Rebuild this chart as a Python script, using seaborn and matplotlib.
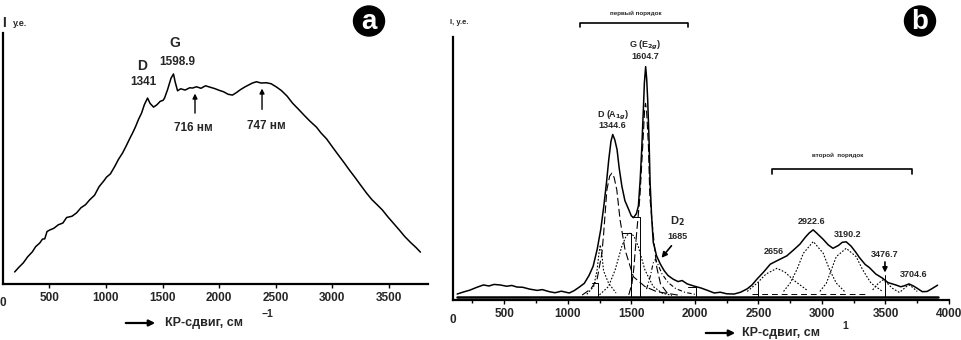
import matplotlib.pyplot as plt
import seaborn as sns
from matplotlib.patches import Ellipse

sns.set_theme(style="white")
plt.rcParams['font.family'] = ['Liberation Sans', 'DejaVu Sans']
plt.rcParams['font.weight'] = 'bold'

# ---- panel a: full spectrum with luminescence background ----
a_shift = [194, 230, 270, 310, 350, 380, 415, 440, 460, 480, 503, 540, 580, 620, 653,
           700, 740, 780, 820, 856, 900, 940, 980, 1006, 1040, 1080, 1110, 1147, 1180,
           1210, 1236, 1260, 1290, 1315, 1340, 1368, 1390, 1421, 1450, 1480, 1505, 1518,
           1545, 1575, 1597, 1612, 1633, 1660, 1700, 1740, 1765, 1800, 1840, 1880, 1915,
           1960, 2000, 2040, 2080, 2118, 2150, 2190, 2230, 2260, 2295, 2330, 2370, 2418,
           2460, 2507, 2550, 2600, 2648, 2700, 2750, 2800, 2860, 2900, 2950, 3001, 3050,
           3100, 3151, 3200, 3250, 3301, 3350, 3400, 3442, 3490, 3540, 3592, 3640, 3690,
           3740, 3778]
a_int = [4.8, 6.6, 8.4, 10.9, 12.8, 14.9, 16.3, 17.9, 18.0, 20.9, 21.5, 22.2, 23.6, 24.3, 26.5,
         27.0, 28.3, 30.4, 31.6, 33.5, 35.4, 38.8, 41.0, 42.6, 43.9, 47.0, 49.6, 52.2, 55.1,
         57.9, 60.2, 62.5, 65.8, 68.1, 71.5, 74.1, 72.0, 70.5, 71.4, 72.8, 73.2, 74.1,
         77.5, 82.0, 83.7, 80.5, 77.0, 77.8, 77.3, 78.2, 78.1, 78.6, 78.0, 79.0, 78.5,
         77.9, 77.2, 76.6, 75.6, 75.3, 76.2, 77.5, 78.6, 79.3, 80.1, 80.6, 80.1, 80.2,
         79.8, 78.5, 77.1, 74.9, 72.1, 69.7, 67.3, 65.0, 62.5, 60.2, 57.8, 54.6, 51.6,
         48.6, 45.4, 42.5, 39.4, 36.3, 33.6, 31.4, 29.5, 26.8, 24.2, 21.5, 18.9, 16.6,
         14.5, 12.7]

# ---- panel b: background-subtracted spectrum and fitted components ----
b_shift = [130, 180, 230, 280, 337, 380, 420, 467, 520, 560, 600, 646, 700, 760, 800, 856,
           900, 950, 1012, 1050, 1089, 1130, 1167, 1200, 1232, 1260, 1284, 1305, 1323, 1340,
           1354, 1370, 1388, 1405, 1426, 1450, 1479, 1500, 1518, 1540, 1556, 1570, 1582,
           1595, 1603, 1613, 1621, 1629, 1640, 1648, 1660, 1673, 1699, 1730, 1760, 1790,
           1830, 1868, 1900, 1940, 1998, 2050, 2100, 2153, 2200, 2250, 2309, 2360, 2412,
           2450, 2490, 2540, 2594, 2650, 2724, 2780, 2827, 2870, 2900, 2931, 2960, 3009,
           3050, 3087, 3130, 3160, 3191, 3230, 3269, 3294, 3340, 3373, 3424, 3477, 3520,
           3554, 3581, 3620, 3650, 3685, 3720, 3750, 3790, 3828, 3860, 3893, 3910]
b_int = [1.1, 1.9, 2.6, 3.6, 4.6, 4.2, 4.8, 4.6, 4.1, 4.4, 3.8, 3.7, 3.0, 2.5, 2.8, 2.0,
         1.6, 2.2, 1.5, 2.4, 3.7, 5.2, 8.2, 11.8, 18.4, 26.0, 35.0, 44.0, 52.9, 59.8,
         62.5, 60.5, 56.7, 49.5, 42.6, 37.0, 33.7, 31.2, 30.5, 32.0, 35.0, 45.0, 56.7,
         72.0, 82.3, 88.6, 84.0, 75.9, 60.0, 44.1, 31.0, 21.0, 15.8, 12.5, 10.0, 8.2,
         6.8, 5.9, 6.3, 5.0, 4.1, 3.4, 2.5, 1.5, 1.8, 1.2, 1.1, 1.8, 3.1,
         4.6, 6.9, 9.5, 12.6, 14.0, 15.8, 18.2, 20.3, 23.0, 24.6, 25.8, 24.5, 22.2,
         20.0, 18.7, 19.8, 21.0, 21.2, 19.5, 17.0, 15.2, 12.5, 11.3, 8.8, 7.2, 5.5,
         5.0, 4.6, 3.9, 4.3, 5.0, 4.2, 3.3, 2.0, 2.1, 3.0, 4.0, 4.5]

# fitted components
d_x = [1113, 1180, 1230, 1269, 1282, 1308, 1330, 1347, 1365, 1386, 1412, 1451, 1516, 1607, 1700, 1893]
d_y = [0.7, 3.0, 6.5, 16.8, 24.0, 41.2, 46.5, 47.6, 46.0, 41.2, 29.6, 18.1, 7.8, 4.0, 2.0, 0.5]
d4_x = [1150, 1204, 1230, 1245, 1256, 1268, 1282, 1321, 1380]
d4_y = [1.0, 4.0, 10.0, 16.5, 20.0, 16.5, 10.0, 5.3, 1.5]
d3_x = [1250, 1321, 1373, 1425, 1460, 1490, 1520, 1555, 1607, 1672, 1745, 1820]
d3_y = [0.8, 4.0, 10.4, 19.4, 23.5, 24.5, 23.5, 19.4, 10.4, 4.0, 1.4, 0.6]
g_x = [1480, 1505, 1520, 1542, 1568, 1590, 1605, 1612, 1620, 1635, 1646, 1672, 1700, 1730, 1790]
g_y = [0.8, 5.0, 11.0, 24.5, 38.6, 58.0, 72.0, 74.5, 72.0, 58.0, 38.6, 24.5, 11.5, 5.0, 1.0]
d2_x = [1620, 1650, 1672, 1690, 1710, 1740, 1790, 1850, 1920, 2000]
d2_y = [3.0, 8.0, 13.0, 14.5, 12.5, 9.0, 5.5, 3.2, 1.8, 1.0]
p2656_x = [2412, 2490, 2560, 2646, 2710, 2776, 2880]
p2656_y = [2.1, 5.3, 8.8, 11.0, 9.5, 6.5, 2.7]
p2922_x = [2698, 2750, 2802, 2854, 2932, 3010, 3061, 3113, 3178]
p2922_y = [2.1, 5.3, 10.4, 16.8, 21.3, 16.8, 10.4, 5.3, 2.1]
p3190_x = [2984, 3035, 3074, 3113, 3191, 3269, 3321, 3386, 3477]
p3190_y = [2.1, 5.3, 10.4, 15.5, 18.7, 15.5, 10.4, 5.3, 2.1]
p3476_x = [3399, 3440, 3477, 3515, 3555, 3620]
p3476_y = [2.7, 5.0, 6.5, 5.2, 3.3, 1.4]
p3704_x = [3620, 3660, 3685, 3710, 3750]
p3704_y = [2.1, 3.8, 4.6, 3.8, 2.1]

a_ticks = [500, 1000, 1500, 2000, 2500, 3000, 3500]
b_ticks = [500, 1000, 1500, 2000, 2500, 3000, 3500, 4000]

fig = plt.figure(figsize=(9.62, 3.4), dpi=100)
ax_a = fig.add_axes([0.0031, 0.1647, 0.4418, 0.738])
ax_b = fig.add_axes([0.4706, 0.1176, 0.5159, 0.7735])


def px(x, y):
    # pixel position of the reference -> figure fraction
    return x / 962, 1 - y / 340


def frame(ax, ticks, minor=None):
    for s in ['top', 'right']:
        ax.spines[s].set_visible(False)
    for s in ['left', 'bottom']:
        ax.spines[s].set_color('black')
        ax.spines[s].set_linewidth(1.6)
    ax.set_yticks([])
    ax.set_xticks(ticks)
    ax.set_xticklabels([str(t) for t in ticks], fontsize=8.5, fontweight='bold')
    if minor is not None:
        ax.set_xticks(minor, minor=True)
    ax.tick_params(axis='x', which='both', bottom=True, direction='out', length=3,
                   width=1, color='black', pad=3)
    ax.tick_params(axis='x', which='minor', length=2)
    ax.set_xlabel('')
    ax.set_ylabel('')
    ax.text(0.0, -0.052, '0', transform=ax.transAxes, ha='center', va='top',
            fontsize=8.5, fontweight='bold')


# ---------------- panel a ----------------
sns.lineplot(x=a_shift, y=a_int, ax=ax_a, color='black', lw=1.1)
ax_a.set_xlim(91, 3845)
ax_a.set_ylim(0, 100)
frame(ax_a, a_ticks)

ax_a.text(1319, 86.9, 'D', ha='center', va='center', fontsize=10)
ax_a.text(1330, 80.6, '1341', ha='center', va='center', fontsize=8.5)
ax_a.text(1610, 96.0, 'G', ha='center', va='center', fontsize=10)
ax_a.text(1628, 88.4, '1598.9', ha='center', va='center', fontsize=8.5)
ax_a.annotate('', xy=(1787, 77.0), xytext=(1787, 67.0),
              arrowprops=dict(arrowstyle='-|>', color='black', lw=1.0, mutation_scale=7))
ax_a.text(1769, 62.2, '716 нм', ha='center', va='center', fontsize=8.5)
ax_a.annotate('', xy=(2379, 79.0), xytext=(2379, 68.5),
              arrowprops=dict(arrowstyle='-|>', color='black', lw=1.0, mutation_scale=7))
ax_a.text(2414, 62.9, '747 нм', ha='center', va='center', fontsize=8.5)

fig.text(*px(2, 23), 'I', fontsize=10, ha='left', va='center')
fig.text(*px(13, 23), 'у.е.', fontsize=6.5, ha='left', va='center')

# ---------------- panel b ----------------
ax_b.set_xlim(95, 4000)
ax_b.set_ylim(-1.2, 100)
ax_b.plot([130, 3915], [0, 0], color='black', lw=1.8)
ax_b.plot([2450, 3350], [1.2, 1.2], color='black', lw=0.7, linestyle=(0, (6, 4)))

comp_style = [
    (d_x, d_y, (0, (7, 3))),
    (d4_x, d4_y, (0, (1.5, 1.5))),
    (d3_x, d3_y, (0, (1.5, 1.5))),
    (g_x, g_y, (0, (7, 3))),
    (d2_x, d2_y, (0, (4, 2, 1, 2))),
    (p2656_x, p2656_y, (0, (1.5, 1.5))),
    (p2922_x, p2922_y, (0, (1.5, 1.5))),
    (p3190_x, p3190_y, (0, (1.5, 1.5))),
    (p3476_x, p3476_y, (0, (1.5, 1.5))),
    (p3704_x, p3704_y, (0, (1.5, 1.5))),
]
for cx, cy, ls in comp_style:
    sns.lineplot(x=cx, y=cy, ax=ax_b, color='black', lw=0.8, linestyle=ls)

sns.lineplot(x=b_shift, y=b_int, ax=ax_b, color='black', lw=1.1)
frame(ax_b, b_ticks, minor=[250, 750, 1250, 1750, 2250, 2750, 3250, 3750])

# peak marker lines
for xv, yv in [(1500, 24.5), (1568, 30.9), (2009, 3.7), (2500, 5.9), (3500, 8.4), (1238, 5.5)]:
    ax_b.plot([xv, xv], [0, yv], color='black', lw=0.7)
ax_b.plot([1503, 1568], [30.9, 30.9], color='black', lw=0.7)
ax_b.plot([1425, 1500], [24.5, 24.5], color='black', lw=0.7)
ax_b.plot([1191, 1238], [5.5, 5.5], color='black', lw=0.7)
ax_b.plot([1950, 2009], [3.7, 3.7], color='black', lw=0.7)

# order brackets
ax_b.plot([1093, 1093, 1950, 1950], [103.8, 105.5, 105.5, 103.8], color='black', lw=1.2,
          clip_on=False)
ax_b.text(1532, 109.2, 'первый порядок', ha='center', va='center', fontsize=4.5)
ax_b.plot([2607, 2607, 3712, 3712], [47.4, 49.1, 49.1, 47.4], color='black', lw=1.2)
ax_b.text(3127, 54.6, 'второй  порядок', ha='center', va='center', fontsize=4.5)

ax_b.text(1607, 96.9, 'G (E$_{2g}$)', ha='center', va='center', fontsize=6.5)
ax_b.text(1607, 92.4, '1604.7', ha='center', va='center', fontsize=6.5)
ax_b.text(1360, 70.0, 'D (A$_{1g}$)', ha='center', va='center', fontsize=6.5)
ax_b.text(1352, 65.8, '1344.6', ha='center', va='center', fontsize=6.5)
ax_b.text(1866, 29.0, 'D$_2$', ha='center', va='center', fontsize=8)
ax_b.text(1866, 23.2, '1685', ha='center', va='center', fontsize=6.5)
ax_b.annotate('', xy=(1724, 14.2), xytext=(1830, 20.5),
              arrowprops=dict(arrowstyle='-|>', color='black', lw=1.2, mutation_scale=8))
ax_b.text(2919, 29.0, '2922.6', ha='center', va='center', fontsize=6.5)
ax_b.text(3205, 24.1, '3190.2', ha='center', va='center', fontsize=6.5)
ax_b.text(2625, 17.4, '2656', ha='center', va='center', fontsize=6.5)
ax_b.text(3490, 16.2, '3476.7', ha='center', va='center', fontsize=6.5)
ax_b.annotate('', xy=(3496, 8.3), xytext=(3496, 14.5),
              arrowprops=dict(arrowstyle='-|>', color='black', lw=1.2, mutation_scale=7))
ax_b.text(3724, 8.8, '3704.6', ha='center', va='center', fontsize=6.5)

fig.text(*px(450, 23), 'I, у.е.', fontsize=5.5, ha='left', va='center')

# ---------------- x labels with arrows ----------------
for (x0, x1, y), (tx, lab), (sx, sy, sup) in [
        ((123, 158, 323), (165, 'КР-сдвиг, см'), (262, 314, '−1')),
        ((703, 738, 333), (742, 'КР-сдвиг, см'), (842, 326, '1'))]:
    fig.add_artist(plt.Annotation('', xy=px(x1, y), xytext=px(x0, y),
                                  xycoords='figure fraction', textcoords='figure fraction',
                                  arrowprops=dict(arrowstyle='-|>', color='black', lw=1.6,
                                                  mutation_scale=9)))
    fig.text(*px(tx, y), lab, fontsize=9, ha='left', va='center')
    fig.text(*px(sx, sy), sup, fontsize=7.5, ha='left', va='center')

# ---------------- panel badges ----------------
for cx, cy, letter in [(369, 21, 'a'), (920, 21, 'b')]:
    fig.add_artist(Ellipse(px(cx, cy), 31 / 962, 30 / 340, transform=fig.transFigure,
                           facecolor='black', edgecolor='black'))
    fig.text(*px(cx, cy + 1), letter, color='white', fontsize=20, ha='center', va='center')

fig.savefig('out.png', dpi=100)
